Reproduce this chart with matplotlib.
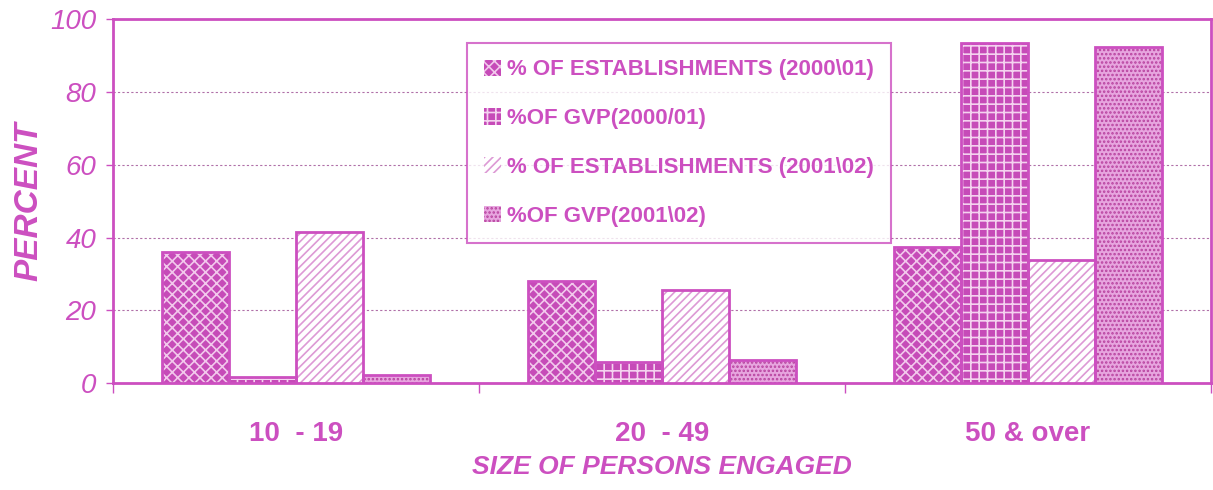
import numpy as np
import matplotlib.pyplot as plt
from matplotlib.ticker import FixedLocator

plt.rcParams['font.family'] = ['Liberation Sans', 'DejaVu Sans']
plt.rcParams['hatch.linewidth'] = 1.2

# data
categories = ["10  - 19", "20  - 49", "50 & over"]
series_names = [
    "% OF ESTABLISHMENTS (2000\\01)",
    "%OF GVP(2000/01)",
    "% OF ESTABLISHMENTS (2001\\02)",
    "%OF GVP(2001\\02)",
]
estab_0001 = [36.0, 28.0, 37.4]
gvp_0001 = [1.6, 5.8, 93.4]
estab_0102 = [41.5, 25.5, 33.8]
gvp_0102 = [2.2, 6.3, 92.3]
yticks = [0, 20, 40, 60, 80, 100]

mag = "#cc4fc0"
styles = [
    dict(facecolor="#c64bb8", hatch="xxx", hcol="#f2c8ec"),
    dict(facecolor="#c64bb8", hatch="++", hcol="#f4d2ef"),
    dict(facecolor="white", hatch="////", hcol="#dd9ad5"),
    dict(facecolor="#e7a5df", hatch="....", hcol="#b8429f"),
]

fig = plt.figure(figsize=(12.13, 4.90), dpi=100)
ax = fig.add_axes([0.093, 0.218, 0.905, 0.743])

x = np.arange(len(categories))
w = 0.183
all_series = [estab_0001, gvp_0001, estab_0102, gvp_0102]
for i, (vals, st, name) in enumerate(zip(all_series, styles, series_names)):
    pos = x + (i - 1.5) * w
    ax.bar(pos, vals, width=w, facecolor=st["facecolor"],
           edgecolor=st["hcol"], hatch=st["hatch"], linewidth=0,
           label=name, zorder=3)
    # outline drawn separately so hatch colour and edge colour can differ
    ax.bar(pos, vals, width=w, facecolor="none", edgecolor=mag,
           linewidth=2, zorder=4)

ax.set_xlim(-0.5, 2.5)
ax.set_ylim(0, 100)
ax.set_yticks(yticks)
ax.set_yticklabels([str(t) for t in yticks], fontsize=20, style="italic", color=mag)
ax.set_xticks(x)
ax.set_xticklabels(categories, fontsize=20, fontweight="bold", color=mag)
ax.xaxis.set_minor_locator(FixedLocator([-0.5, 0.5, 1.5, 2.5]))
ax.tick_params(axis="x", which="major", length=0, pad=27)
ax.tick_params(axis="x", which="minor", length=7, color=mag, width=1)
ax.tick_params(axis="y", length=5, color=mag, width=1, pad=7)

ax.yaxis.grid(True, linestyle=(0, (2, 2)), color="#b070a8", linewidth=0.8, zorder=0)
ax.set_axisbelow(True)
for s in ax.spines.values():
    s.set_color(mag)
    s.set_linewidth(2)

ax.set_ylabel("PERCENT", fontsize=24, fontweight="bold", style="italic", color=mag, labelpad=4)
ax.set_xlabel("SIZE OF PERSONS ENGAGED", fontsize=19, fontweight="bold", style="italic",
              color=mag, labelpad=6)

leg = ax.legend(loc="upper left", bbox_to_anchor=(0.323, 0.935),
                prop=dict(weight="bold", size=16), frameon=True, fancybox=False,
                handlelength=0.75, handleheight=0.75, handletextpad=0.3,
                labelspacing=1.25, borderpad=0.75, borderaxespad=0)
leg.get_frame().set_edgecolor(mag)
leg.get_frame().set_linewidth(1.5)
for t in leg.get_texts():
    t.set_color(mag)
leg.set_zorder(5)

fig.savefig("out.png", dpi=100)
